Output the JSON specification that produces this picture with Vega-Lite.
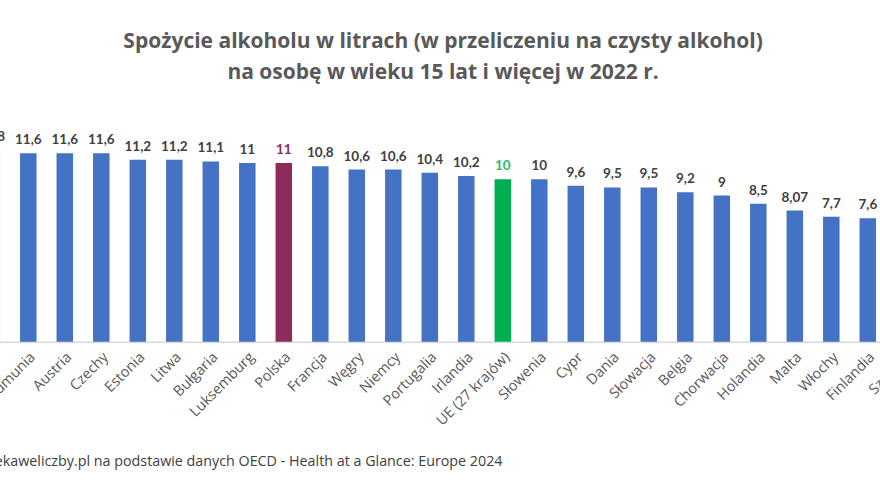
{
  "$schema": "https://vega.github.io/schema/vega-lite/v6.json",
  "width": 949,
  "height": 227.5,
  "autosize": {"type": "none"},
  "padding": {"left": -26.45, "right": -42.55, "top": 114.25, "bottom": 138.25},
  "background": "white",
  "title": {
    "text": ["Spożycie alkoholu w litrach (w przeliczeniu na czysty alkohol)", "na osobę w wieku 15 lat i więcej w 2022 r."],
    "anchor": "middle",
    "dx": -5,
    "offset": 31,
    "font": "Open Sans",
    "fontSize": 21,
    "fontWeight": "bold",
    "color": "#595959",
    "lineHeight": 31
  },
  "config": {
    "view": {"stroke": null},
    "locale": {"number": {"decimal": ",", "thousands": " ", "grouping": [3], "currency": ["", " zł"]}}
  },
  "data": {
    "values": [
      {"kraj": "Łotwa", "litry": 11.8, "grupa": "kraj"},
      {"kraj": "Rumunia", "litry": 11.6, "grupa": "kraj"},
      {"kraj": "Austria", "litry": 11.6, "grupa": "kraj"},
      {"kraj": "Czechy", "litry": 11.6, "grupa": "kraj"},
      {"kraj": "Estonia", "litry": 11.2, "grupa": "kraj"},
      {"kraj": "Litwa", "litry": 11.2, "grupa": "kraj"},
      {"kraj": "Bułgaria", "litry": 11.1, "grupa": "kraj"},
      {"kraj": "Luksemburg", "litry": 11, "grupa": "kraj"},
      {"kraj": "Polska", "litry": 11, "grupa": "Polska"},
      {"kraj": "Francja", "litry": 10.8, "grupa": "kraj"},
      {"kraj": "Węgry", "litry": 10.6, "grupa": "kraj"},
      {"kraj": "Niemcy", "litry": 10.6, "grupa": "kraj"},
      {"kraj": "Portugalia", "litry": 10.4, "grupa": "kraj"},
      {"kraj": "Irlandia", "litry": 10.2, "grupa": "kraj"},
      {"kraj": "UE (27 krajów)", "litry": 10, "grupa": "UE"},
      {"kraj": "Słowenia", "litry": 10, "grupa": "kraj"},
      {"kraj": "Cypr", "litry": 9.6, "grupa": "kraj"},
      {"kraj": "Dania", "litry": 9.5, "grupa": "kraj"},
      {"kraj": "Słowacja", "litry": 9.5, "grupa": "kraj"},
      {"kraj": "Belgia", "litry": 9.2, "grupa": "kraj"},
      {"kraj": "Chorwacja", "litry": 9, "grupa": "kraj"},
      {"kraj": "Holandia", "litry": 8.5, "grupa": "kraj"},
      {"kraj": "Malta", "litry": 8.07, "grupa": "kraj"},
      {"kraj": "Włochy", "litry": 7.7, "grupa": "kraj"},
      {"kraj": "Finlandia", "litry": 7.6, "grupa": "kraj"},
      {"kraj": "Szwecja", "litry": 7.5, "grupa": "kraj"}
    ]
  },
  "encoding": {
    "x": {
      "field": "kraj",
      "type": "nominal",
      "sort": null,
      "scale": {"paddingInner": 0.548, "paddingOuter": 0.274},
      "axis": {
        "title": "Źródło: ciekaweliczby.pl na podstawie danych OECD - Health at a Glance: Europe 2024",
        "titleFont": "Open Sans",
        "titleFontSize": 14.3,
        "titleFontWeight": "normal",
        "titleColor": "#404040",
        "titleAnchor": "start",
        "titleAlign": "right",
        "titleBaseline": "alphabetic",
        "titleX": 528.5,
        "titleY": 124,
        "labelAngle": -45,
        "labelFont": "Open Sans",
        "labelFontSize": 14.5,
        "labelColor": "#595959",
        "labelPadding": 8,
        "labelOverlap": false,
        "ticks": false,
        "domainColor": "#d9d9d9",
        "domainWidth": 1.5
      }
    },
    "y": {
      "field": "litry",
      "type": "quantitative",
      "scale": {"domain": [0, 14], "nice": false},
      "axis": null
    }
  },
  "layer": [
    {
      "mark": {"type": "bar"},
      "encoding": {
        "color": {
          "field": "grupa",
          "type": "nominal",
          "scale": {"domain": ["kraj", "Polska", "UE"], "range": ["#4472C4", "#8E2A5C", "#00B050"]},
          "legend": null
        }
      }
    },
    {
      "mark": {"type": "text", "baseline": "bottom", "dy": -6, "font": "Lato", "fontSize": 13.5, "fontWeight": "bold"},
      "encoding": {
        "text": {"field": "litry", "type": "quantitative", "format": "~g"},
        "color": {
          "field": "grupa",
          "type": "nominal",
          "scale": {"domain": ["kraj", "Polska", "UE"], "range": ["#404040", "#8E2A5C", "#2DB86A"]},
          "legend": null
        }
      }
    }
  ],
  "resolve": {"scale": {"color": "independent"}}
}
